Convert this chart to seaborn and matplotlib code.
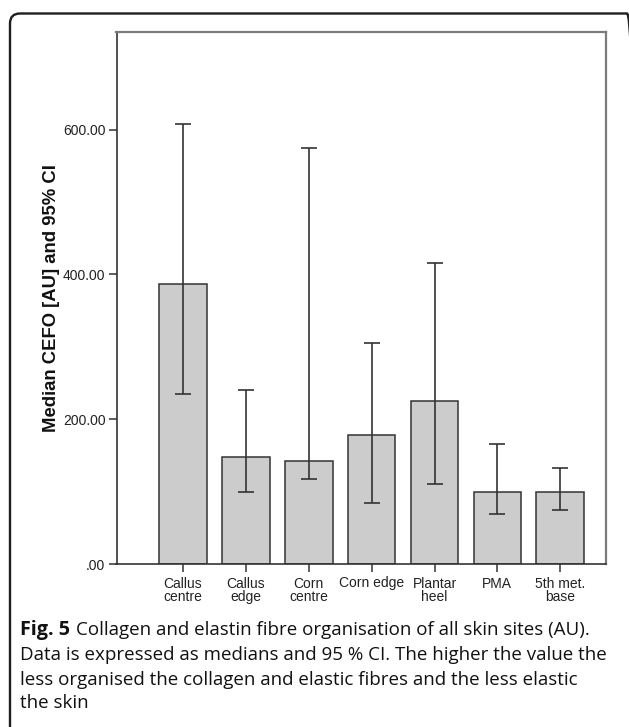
import matplotlib
matplotlib.use("Agg")
import matplotlib.pyplot as plt
import seaborn as sns
import pandas as pd
import numpy as np
from matplotlib.patches import FancyBboxPatch
from matplotlib.transforms import IdentityTransform

# ---- data ----
categories = ["Callus\ncentre", "Callus\nedge", "Corn\ncentre", "Corn edge",
              "Plantar\nheel", "PMA", "5th met.\nbase"]
medians = [387.5, 148.5, 142.6, 177.6, 225.0, 99.1, 99.1]
ci_low = [234.3, 100.0, 117.6, 84.8, 110.2, 69.2, 74.7]
ci_high = [607.6, 240.3, 574.8, 305.3, 415.2, 165.5, 132.3]
ytick_vals = [0, 200, 400, 600]
ytick_labels = [".00", "200.00", "400.00", "600.00"]

df = pd.DataFrame({"site": categories, "median": medians})

sns.set_style("white")
plt.rcParams["font.family"] = ["Liberation Sans", "DejaVu Sans"]

fig = plt.figure(figsize=(6.29, 7.27), dpi=100)
ax = fig.add_axes([116.5 / 629, 1 - 564 / 727, (605.7 - 116.5) / 629, (564 - 32) / 727])

sns.barplot(data=df, x="site", y="median", order=categories, color="#cccccc",
            edgecolor="#333333", linewidth=1.1, width=0.757, errorbar=None,
            saturation=1, ax=ax)
for p in ax.patches:
    p.set_facecolor("#cccccc")

xpos = np.arange(len(categories))
med = np.array(medians)
yerr = np.vstack([med - np.array(ci_low), np.array(ci_high) - med])
ax.errorbar(xpos, med, yerr=yerr, fmt="none", ecolor="#333333", elinewidth=1.2,
            capsize=5.6, capthick=1.2, zorder=5)

ax.set_xlim(-1.058, 6.723)
ax.set_ylim(0, 735)
ax.set_yticks(ytick_vals)
ax.set_yticklabels(ytick_labels)
ax.set_xlabel("")
ax.set_ylabel("Median CEFO [AU] and 95% CI", fontsize=13.3, fontweight="bold",
              color="#111111", labelpad=2)
ax.tick_params(axis="both", which="both", length=6, width=1.1, color="#333333",
               labelsize=10, labelcolor="#222222", direction="out", pad=2,
               left=True, bottom=True)
ax.tick_params(axis="x", pad=3)
for lbl in ax.get_xticklabels():
    lbl.set_linespacing(0.95)

for s in ["left", "bottom"]:
    ax.spines[s].set_color("#333333")
    ax.spines[s].set_linewidth(1.2)
for s in ["top", "right"]:
    ax.spines[s].set_color("#7a7a7a")
    ax.spines[s].set_linewidth(1.6)

# ---- outer rounded frame ----
box = FancyBboxPatch((10, -30), 627, 727 - 13.5 + 30,
                     boxstyle="round,pad=0,rounding_size=10",
                     transform=IdentityTransform(), fill=False,
                     edgecolor="#1e1e1e", linewidth=1.7)
fig.patches.append(box)

# ---- caption ----
cap_font = ["Open Sans", "DejaVu Sans"]
cap_size = 13.5
x0 = 20.5 / 629
fig.canvas.draw()
renderer = fig.canvas.get_renderer()
t_bold = fig.text(x0, 1 - 635 / 727, "Fig. 5", fontsize=14.2, fontweight="bold",
                  family=cap_font, va="baseline", ha="left", color="#111111")
bb = t_bold.get_window_extent(renderer=renderer)
fig.text(bb.x1 / 629 + 6 / 629, 1 - 635 / 727,
         "Collagen and elastin fibre organisation of all skin sites (AU).",
         fontsize=cap_size, family=cap_font, va="baseline", ha="left", color="#111111")
lines = ["Data is expressed as medians and 95 % CI. The higher the value the",
         "less organised the collagen and elastic fibres and the less elastic",
         "the skin"]
ys = [660.5, 685.0, 708.5]
for txt, y in zip(lines, ys):
    fig.text(x0, 1 - y / 727, txt, fontsize=cap_size, family=cap_font,
             va="baseline", ha="left", color="#111111")

fig.savefig("out.png", dpi=100)
